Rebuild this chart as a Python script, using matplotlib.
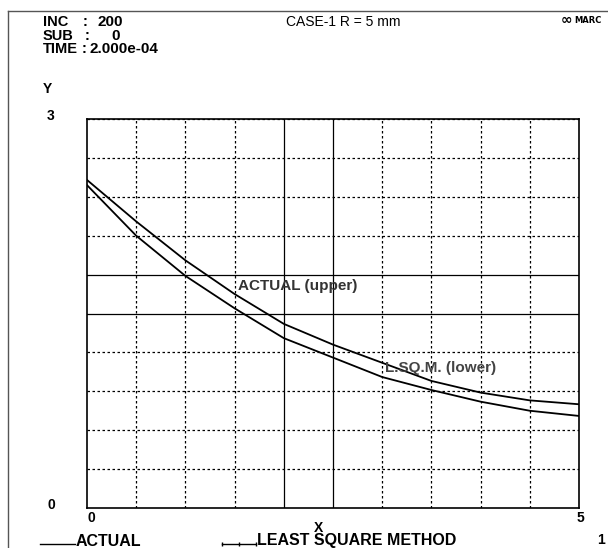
import matplotlib.pyplot as plt
import numpy as np

# dados
x_pontos = [0.0, 0.5, 1.0, 1.5, 2.0, 2.5, 3.0, 3.5, 4.0, 4.5, 5.0]
y_actual = [2.53, 2.21, 1.91, 1.65, 1.42, 1.26, 1.12, 0.98, 0.89, 0.83, 0.80]
y_lsqm = [2.49, 2.10, 1.79, 1.54, 1.31, 1.16, 1.01, 0.91, 0.82, 0.75, 0.71]

titulo = 'CASE-1 R = 5 mm'
cab_nomes = ['INC', 'SUB', 'TIME']
cab_valores = ['200', '0', '2.000e-04']

plt.rcParams['font.family'] = ['Liberation Sans', 'DejaVu Sans']

fig = plt.figure(figsize=(6.08, 5.48), dpi=100)
W, H = 608.0, 548.0

def fx(px):
    return px / W

def fy(py):
    return 1 - py / H

ax = fig.add_axes([fx(87), fy(508), fx(579) - fx(87), fy(119) - fy(508)])
ax.set_xlim(0, 5)
ax.set_ylim(0, 3)

# grade: pontilhada, com algumas linhas continuas como no original
for xv in np.arange(0.5, 5.0, 0.5):
    estilo = '-' if abs(xv - 2.0) < 1e-6 or abs(xv - 2.5) < 1e-6 else (0, (2, 2))
    ax.axvline(xv, color='black', lw=0.9, ls=estilo)
for yv in np.arange(0.3, 3.0, 0.3):
    estilo = '-' if abs(yv - 1.5) < 1e-6 or abs(yv - 1.8) < 1e-6 else (0, (2, 2))
    ax.axhline(yv, color='black', lw=0.9, ls=estilo)

ax.plot(x_pontos, y_actual, color='black', lw=1.3)
ax.plot(x_pontos, y_lsqm, color='black', lw=1.3)

ax.text(1.53, 1.71, 'ACTUAL (upper)', fontsize=11, fontweight='bold',
        color='#333333', va='center', ha='left')
ax.text(3.03, 1.08, 'L.SQ.M. (lower)', fontsize=11, fontweight='bold',
        color='#444444', va='center', ha='left')

ax.set_xticks([])
ax.set_yticks([])
for s in ax.spines.values():
    s.set_linewidth(1.2)

# moldura
fig.add_artist(plt.Line2D([fx(8), 1], [fy(11), fy(11)], color='#555555', lw=1.0))
fig.add_artist(plt.Line2D([fx(8), fx(8)], [fy(11), 0], color='#555555', lw=1.0))

# cabecalho
pos_dois_pontos = [83, 85, 82]
pos_valor = [97, 111, 89]
for i in range(3):
    yy = fy(22 + i * 13.5)
    fig.text(fx(43), yy, cab_nomes[i], fontsize=10.5, fontweight='bold', va='center')
    fig.text(fx(pos_dois_pontos[i]), yy, ':', fontsize=10.5, fontweight='bold', va='center')
    fig.text(fx(pos_valor[i]), yy, cab_valores[i], fontsize=11, fontweight='bold', va='center')
fig.text(fx(343), fy(22), titulo, fontsize=10, va='center', ha='center')
fig.text(fx(566), fy(20), '\u221e', fontsize=10, fontweight='bold', va='center', ha='center',
         family=['DejaVu Sans'])
fig.text(fx(588), fy(20.5), 'MARC', fontsize=6, fontweight='bold', va='center', ha='center',
         family=['DejaVu Sans'])

# rotulos dos eixos
fig.text(fx(43), fy(89), 'Y', fontsize=10, fontweight='bold', va='center')
fig.text(fx(51), fy(116), '3', fontsize=10, fontweight='bold', va='center', ha='center')
fig.text(fx(51), fy(505), '0', fontsize=10, fontweight='bold', va='center', ha='center')
fig.text(fx(91), fy(518), '0', fontsize=10, fontweight='bold', va='center', ha='center')
fig.text(fx(580), fy(518), '5', fontsize=10, fontweight='bold', va='center', ha='center')
fig.text(fx(318), fy(528), 'X', fontsize=10, fontweight='bold', va='center', ha='center')
fig.text(fx(601), fy(540), '1', fontsize=10, fontweight='bold', va='center', ha='center')

# legenda inferior
fig.add_artist(plt.Line2D([fx(40), fx(75)], [fy(544), fy(544)], color='black', lw=1.0))
fig.text(fx(76), fy(541), 'ACTUAL', fontsize=11.5, fontweight='bold', va='center')
fig.add_artist(plt.Line2D([fx(222), fx(239), fx(256)], [fy(544)] * 3, color='black', lw=1.0,
                          marker='|', markersize=3))
fig.text(fx(257), fy(541), 'LEAST SQUARE METHOD', fontsize=11.5, fontweight='bold', va='center')

fig.savefig('out.png', dpi=100)
